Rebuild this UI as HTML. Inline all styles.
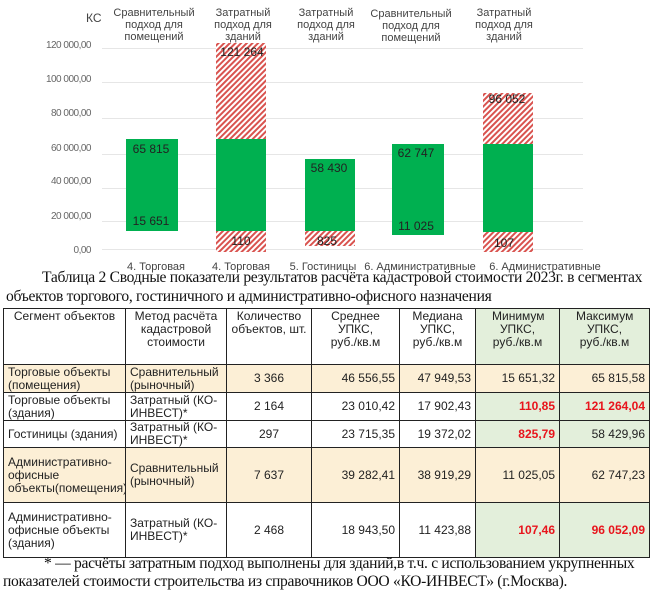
<!DOCTYPE html>
<html><head><meta charset="utf-8"><style>
body{margin:0;width:650px;height:595px;background:#fff;position:relative;overflow:hidden;font-family:"Liberation Sans",sans-serif}
.cap{position:absolute;font-family:"Liberation Serif",serif;font-size:15.6px;white-space:nowrap;letter-spacing:-0.3px;color:#111}
table{position:absolute;left:3px;top:308px;border-collapse:collapse;font-size:12px;color:#222;table-layout:fixed}
td{border:1px solid #222;padding:0 4px;vertical-align:middle;line-height:13px;overflow:hidden}
.h td{vertical-align:top;text-align:center;padding-top:1px}
.h td.w{padding:1px 16px 0}
.y{background:#fcefd6}.g{background:#e3efdb}.r{color:#e8141c;font-weight:bold}
.n{text-align:right}.c{text-align:center}
</style></head><body>
<svg width="650" height="275" style="position:absolute;left:0;top:0" font-family="Liberation Sans, sans-serif">
<defs><pattern id="h" width="4" height="4" patternUnits="userSpaceOnUse" patternTransform="rotate(45)"><rect width="4" height="4" fill="#fff"/><rect width="2" height="4" fill="#d9534f"/></pattern></defs>
<g stroke="#e6e6e6" stroke-width="1">
<line x1="102" x2="583" y1="48.5" y2="48.5"/><line x1="102" x2="583" y1="82.5" y2="82.5"/><line x1="102" x2="583" y1="118.5" y2="118.5"/><line x1="102" x2="583" y1="154.5" y2="154.5"/><line x1="102" x2="583" y1="188.5" y2="188.5"/><line x1="102" x2="583" y1="221.5" y2="221.5"/><line x1="102" x2="583" y1="249.5" y2="249.5"/></g>
<g font-size="10" fill="#666" text-anchor="end" letter-spacing="-0.5">
<text x="91" y="48">120 000,00</text><text x="91" y="82">100 000,00</text><text x="91" y="116">80 000,00</text><text x="91" y="151">60 000,00</text><text x="91" y="184">40 000,00</text><text x="91" y="219">20 000,00</text><text x="91" y="253">0,00</text></g>
<text x="86" y="22" font-size="12" fill="#444">КС</text>
<g font-size="11" fill="#444" text-anchor="middle">
<text x="154" y="16">Сравнительный</text><text x="154" y="28">подход для</text><text x="154" y="40">помещений</text>
<text x="243" y="16">Затратный</text><text x="243" y="28">подход для</text><text x="243" y="40">зданий</text>
<text x="326" y="16">Затратный</text><text x="326" y="28">подход для</text><text x="326" y="40">зданий</text>
<text x="411" y="17">Сравнительный</text><text x="411" y="29">подход для</text><text x="411" y="41">помещений</text>
<text x="504" y="16">Затратный</text><text x="504" y="28">подход для</text><text x="504" y="40">зданий</text>
<text x="156" y="270">4. Торговая</text><text x="241" y="270">4. Торговая</text><text x="323" y="270">5. Гостиницы</text><text x="420" y="270">6. Административные</text><text x="545" y="270">6. Административные</text></g>
<rect x="216" y="43" width="50" height="96" fill="url(#h)"/>
<rect x="216" y="231" width="50" height="21" fill="url(#h)"/>
<rect x="305" y="231" width="50" height="15" fill="url(#h)"/>
<rect x="483" y="93" width="50" height="51" fill="url(#h)"/>
<rect x="483" y="232" width="50" height="20" fill="url(#h)"/>
<g fill="#00b050"><rect x="126" y="139" width="52" height="92"/><rect x="216" y="139" width="50" height="92"/><rect x="305" y="159" width="50" height="72"/><rect x="392" y="144" width="52" height="91"/><rect x="483" y="144" width="50" height="88"/></g>
<g font-size="12" fill="#222" text-anchor="middle">
<text x="151" y="153">65 815</text><text x="151" y="225">15 651</text>
<text x="242" y="56">121 264</text><text x="241" y="245">110</text>
<text x="329" y="172">58 430</text><text x="327" y="245">825</text>
<text x="416" y="157">62 747</text><text x="416" y="230">11 025</text>
<text x="507" y="103">96 052</text><text x="504" y="247">107</text></g>
</svg>
<div class="cap" style="left:42px;top:269px">Таблица 2 Сводные показатели результатов расчёта кадастровой стоимости 2023г. в сегментах</div>
<div class="cap" style="left:6px;top:288px">объектов торгового, гостиничного и административно-офисного назначения</div>
<table style="width:646px">
<colgroup><col style="width:122px"><col style="width:101px"><col style="width:85px"><col style="width:88px"><col style="width:76px"><col style="width:84px"><col style="width:90px"></colgroup>
<tr class="h" style="height:56px"><td>Сегмент объектов</td><td style="padding:1px 6px 0">Метод расчёта кадастровой стоимости</td><td>Количество объектов, шт.</td><td class="w">Среднее УПКС, руб./кв.м</td><td class="w" style="padding:1px 8px 0">Медиана УПКС, руб./кв.м</td><td class="g w">Минимум УПКС, руб./кв.м</td><td class="g w">Максимум УПКС, руб./кв.м</td></tr>
<tr class="y" style="height:28px"><td>Торговые объекты (помещения)</td><td>Сравнительный (рыночный)</td><td class="c">3 366</td><td class="n">46 556,55</td><td class="n">47 949,53</td><td class="n">15 651,32</td><td class="n">65 815,58</td></tr>
<tr style="height:28px"><td>Торговые объекты (здания)</td><td>Затратный (КО-ИНВЕСТ)*</td><td class="c">2 164</td><td class="n">23 010,42</td><td class="n">17 902,43</td><td class="n g r">110,85</td><td class="n g r">121 264,04</td></tr>
<tr style="height:25px"><td>Гостиницы (здания)</td><td>Затратный (КО-ИНВЕСТ)*</td><td class="c">297</td><td class="n">23 715,35</td><td class="n">19 372,02</td><td class="n g r">825,79</td><td class="n g">58 429,96</td></tr>
<tr class="y" style="height:55px"><td>Административно-офисные объекты(помещения)</td><td>Сравнительный (рыночный)</td><td class="c">7 637</td><td class="n">39 282,41</td><td class="n">38 919,29</td><td class="n">11 025,05</td><td class="n">62 747,23</td></tr>
<tr style="height:55px"><td>Административно-офисные объекты (здания)</td><td>Затратный (КО-ИНВЕСТ)*</td><td class="c">2 468</td><td class="n">18 943,50</td><td class="n">11 423,88</td><td class="n g r">107,46</td><td class="n g r">96 052,09</td></tr>
</table>
<div class="cap" style="left:44px;top:555px">* — расчёты затратным подход выполнены для зданий,в т.ч. с использованием укрупненных</div>
<div class="cap" style="left:3px;top:573px">показателей стоимости строительства из справочников ООО «КО-ИНВЕСТ» (г.Москва).</div>
</body></html>
